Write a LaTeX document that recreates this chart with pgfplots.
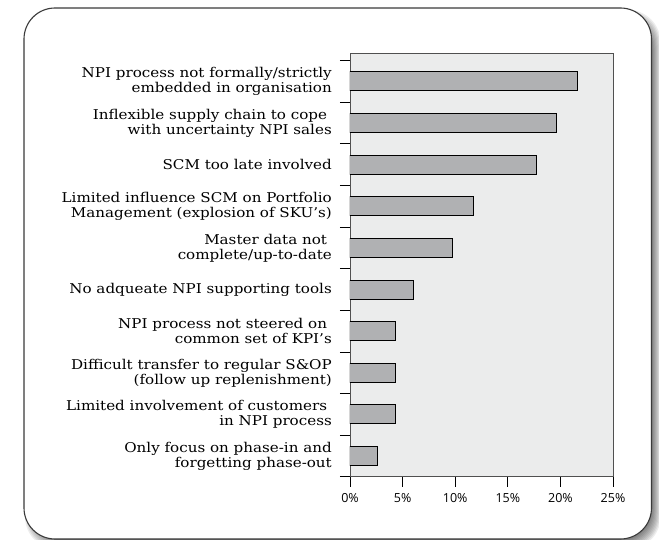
\documentclass[border=0pt]{standalone}
\usepackage{fontspec}
\setmainfont[FakeStretch=1.12]{DejaVu Serif}
\newfontfamily\ticksans{Open Sans}
\usepackage{pgfplots}
\pgfplotsset{compat=1.18}

\definecolor{plotbg}{HTML}{EBECEC}
\definecolor{barfill}{HTML}{B0B1B3}
\definecolor{framegray}{HTML}{3A3A3A}
\definecolor{axisgray}{HTML}{505050}

% share of respondents per bottleneck (bottom to top)
\pgfplotstableread{
y  share
0  2.6
1  4.3
2  4.3
3  4.3
4  6.0
5  9.7
6  11.7
7  17.7
8  19.6
9  21.6
}\npidata

\begin{document}
\begin{tikzpicture}[x=1pt,y=1pt]
\useasboundingbox (0,0) rectangle (659,540);
% soft drop shadow behind the panel
\foreach \k in {-4,-3,...,4} {
  \fill[black, opacity=0.07, rounded corners=32pt]
    (24+5+\k, 1-6+\k) rectangle (651.5+5-\k, 532-6-\k);
}
% panel
\fill[white, rounded corners=31pt] (24,1) rectangle (651.5,532);
\draw[framegray, line width=1.1pt, rounded corners=31pt] (24,1) rectangle (651.5,532);

\begin{axis}[
  at={(350pt,63.1pt)}, anchor=south west,
  width=263pt, height=423pt, scale only axis,
  xmin=0, xmax=25, ymin=-0.5, ymax=9.66,
  axis background/.style={fill=plotbg},
  axis line style={axisgray, line width=0.9pt},
  xtick={0,5,10,15,20,25},
  xticklabels={0\%,5\%,10\%,15\%,20\%,25\%},
  xtick pos=bottom, ytick pos=left,
  tick align=outside,
  major tick length=10pt, minor tick length=10pt,
  every tick/.style={black, line width=0.8pt},
  major y tick style={draw=none},
  ytick={0,...,9},
  minor ytick={-0.5,0.5,...,9.5},
  yticklabels={
    {Only focus on phase-in and\\forgetting phase-out},
    {Limited involvement of customers\kern0.35em\\in NPI process},
    {Difficult transfer to regular S\&OP\\(follow up replenishment)},
    {NPI process not steered on\kern0.35em\\common set of KPI’s},
    {No adqueate NPI supporting tools},
    {Master data not\kern0.35em\\complete/up-to-date},
    {Limited influence SCM on Portfolio\\Management (explosion of SKU’s)},
    {SCM too late involved},
    {Inflexible supply chain to cope\kern0.35em\\with uncertainty NPI sales},
    {NPI process not formally/strictly\\embedded in organisation}
  },
  yticklabel style={align=right, anchor=east, inner sep=0pt, xshift=-8pt,
    font=\fontsize{13.5}{15}\selectfont},
  xticklabel style={font=\ticksans\fontsize{12.5}{14}\selectfont, yshift=-3pt},
]
\addplot[xbar, bar width=19pt, fill=barfill, draw=black, line width=1pt]
  table[x=share, y=y] {\npidata};
\end{axis}
\end{tikzpicture}
\end{document}
